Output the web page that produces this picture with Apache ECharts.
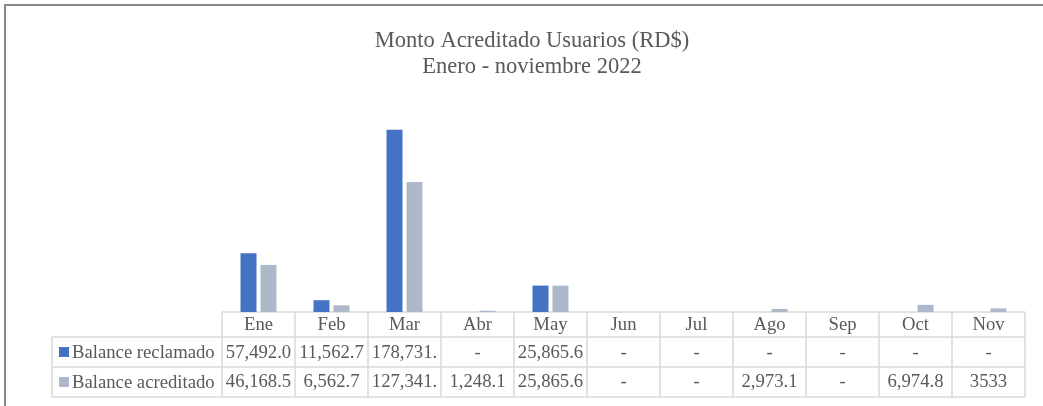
<!DOCTYPE html>
<html>
<head>
<meta charset="utf-8">
<script src="https://cdn.jsdelivr.net/npm/echarts@6/dist/echarts.min.js"></script>
<style>
  html, body { margin: 0; padding: 0; background: #fff; }
  #chart { width: 1043px; height: 406px; }
</style>
</head>
<body>
<div id="chart"></div>
<script>
// data
var months = ['Ene', 'Feb', 'Mar', 'Abr', 'May', 'Jun', 'Jul', 'Ago', 'Sep', 'Oct', 'Nov'];
var reclamado = [57492.0, 11562.7, 178731.0, null, 25865.6, null, null, null, null, null, null];
var acreditado = [46168.5, 6562.7, 127341.0, 1248.1, 25865.6, null, null, 2973.1, null, 6974.8, 3533];
// text shown in the data table (as it appears, truncated by the cell width)
var reclamadoLabels = ['57,492.0', '11,562.7', '178,731.', '-', '25,865.6', '-', '-', '-', '-', '-', '-'];
var acreditadoLabels = ['46,168.5', '6,562.7', '127,341.', '1,248.1', '25,865.6', '-', '-', '2,973.1', '-', '6,974.8', '3533'];
var seriesNames = ['Balance reclamado', 'Balance acreditado'];

var blue = '#4472C4';
var grey = '#ADB9CA';
var textColor = '#595959';
var lineColor = '#D9D9D9';
var font = '"Liberation Serif", "Times New Roman", serif';

var gridLeft = 222, gridRight = 18, plotTop = 108, plotBottom = 312;
var rowY = [312, 337, 367, 397];
var legendLeft = 52;

var chart = echarts.init(document.getElementById('chart'));

var option = {
  animation: false,
  backgroundColor: '#fff',
  title: {
    text: 'Monto Acreditado Usuarios (RD$)\nEnero - noviembre 2022',
    left: 527,
    top: 23,
    textAlign: 'center',
    textStyle: {
      fontFamily: font,
      fontSize: 22.5,
      fontWeight: 'normal',
      color: textColor,
      lineHeight: 26
    }
  },
  grid: {
    left: gridLeft,
    right: gridRight,
    top: plotTop,
    bottom: 406 - plotBottom
  },
  xAxis: {
    type: 'category',
    data: months,
    axisLine: { show: false },
    axisTick: { show: false },
    axisLabel: { show: false }
  },
  yAxis: {
    type: 'value',
    min: 0,
    max: 200000,
    show: false,
    splitLine: { show: false }
  },
  series: [
    {
      name: seriesNames[0],
      type: 'bar',
      data: reclamado,
      barWidth: 16,
      barGap: '25%',
      itemStyle: { color: blue }
    },
    {
      name: seriesNames[1],
      type: 'bar',
      data: acreditado,
      barWidth: 16,
      itemStyle: { color: grey }
    }
  ]
};
chart.setOption(option);

// data table under the plot
function buildTable() {
  var els = [];
  var line = function (x1, y1, x2, y2) {
    els.push({
      type: 'line',
      shape: { x1: x1, y1: y1, x2: x2, y2: y2 },
      style: { stroke: lineColor, lineWidth: 1.5 },
      silent: true
    });
  };
  var text = function (str, x, y, align) {
    els.push({
      type: 'text',
      x: x, y: y,
      style: {
        text: str,
        fill: textColor,
        font: '18.7px ' + font,
        align: align || 'center',
        verticalAlign: 'middle'
      },
      silent: true
    });
  };

  var w = chart.getWidth();
  var right = w - gridRight;
  var colW = (right - gridLeft) / months.length;

  // horizontal lines
  line(gridLeft, rowY[0], right, rowY[0]);
  line(legendLeft, rowY[1], right, rowY[1]);
  line(legendLeft, rowY[2], right, rowY[2]);
  line(legendLeft, rowY[3], right, rowY[3]);
  // vertical lines
  line(legendLeft, rowY[1], legendLeft, rowY[3]);
  for (var i = 0; i <= months.length; i++) {
    var x = gridLeft + i * colW;
    line(x, rowY[0], x, rowY[3]);
  }

  // cells
  var rowsText = [reclamadoLabels, acreditadoLabels];
  months.forEach(function (m, i) {
    var cx = chart.convertToPixel({ xAxisIndex: 0 }, m);
    text(m, cx, (rowY[0] + rowY[1]) / 2 + 1);
    text(rowsText[0][i], cx, (rowY[1] + rowY[2]) / 2 + 1);
    text(rowsText[1][i], cx, (rowY[2] + rowY[3]) / 2 + 0.5);
  });

  // legend keys
  var colors = [blue, grey];
  seriesNames.forEach(function (name, k) {
    var cy = (rowY[k + 1] + rowY[k + 2]) / 2;
    els.push({
      type: 'rect',
      shape: { x: 59, y: cy - 5, width: 10, height: 10 },
      style: { fill: colors[k] },
      silent: true
    });
    text(name, 72, cy + 1, 'left');
  });

  // outer chart border
  els.push({
    type: 'rect',
    shape: { x: 5, y: 5, width: w + 10, height: 500 },
    style: { fill: 'none', stroke: '#888888', lineWidth: 2 },
    silent: true
  });

  chart.setOption({ graphic: els });
}
buildTable();
</script>
</body>
</html>
